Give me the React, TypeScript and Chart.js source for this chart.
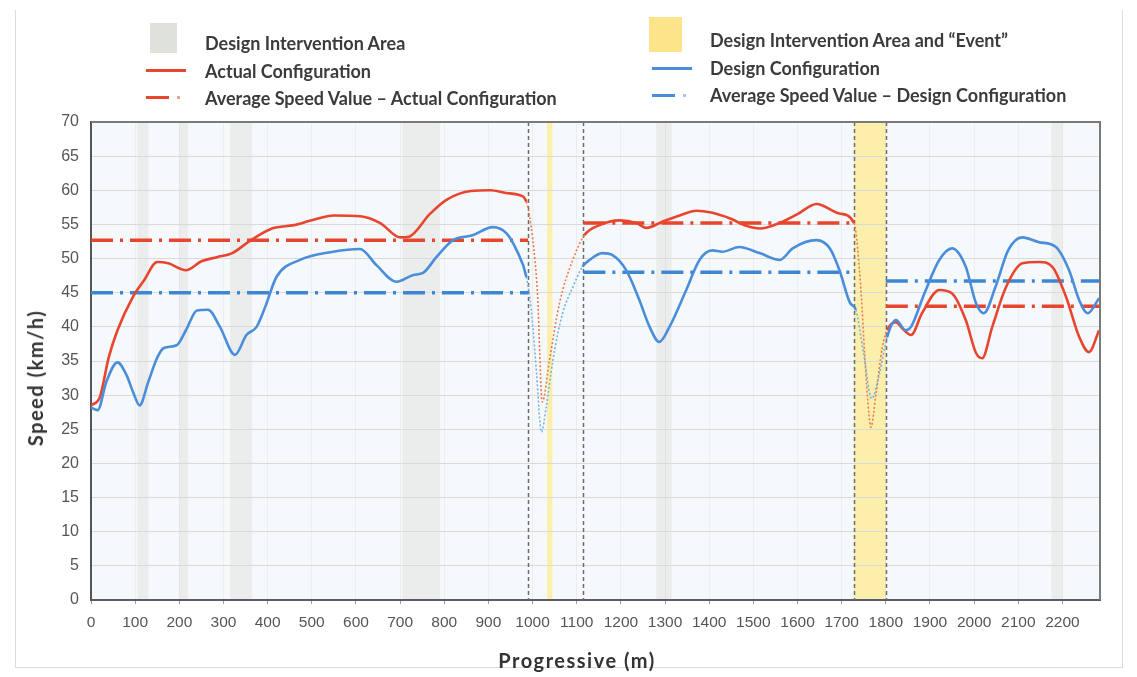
import React, { useEffect, useRef } from 'react';
import { Chart, registerables } from 'chart.js';

Chart.register(...registerables);

// ---- data ----
const actualDistance = [
  0, 20, 40, 60, 95, 120, 150, 175, 215, 250, 285, 320, 360, 410, 460, 500, 550, 610, 655, 700, 720,
  767, 805, 860, 905, 940, 970, 986, 1000, 1011, 1022, 1038, 1061, 1091, 1117, 1152, 1197, 1235,
  1258, 1294, 1333, 1371, 1407, 1446, 1484, 1514, 1566, 1600, 1643, 1695, 1728, 1744, 1752, 1762,
  1766, 1778, 1792, 1803, 1823, 1837, 1857, 1882, 1921, 1950, 1981, 2004, 2018, 2041, 2072, 2109,
  2147, 2177, 2208, 2238, 2260, 2283,
];
const actualSpeed = [
  28.5, 29.7, 35.5, 39.5, 44.4, 46.8, 49.5, 49.3, 48.3, 49.6, 50.2, 50.8, 52.6, 54.4, 54.9, 55.6, 56.3,
  56.2, 55.2, 53.1, 53.2, 56.5, 58.6, 59.9, 60, 59.6, 59.3, 58.3, 53, 45, 29, 35, 43.5, 49.8, 53.4,
  54.9, 55.6, 55.2, 54.5, 55.4, 56.3, 57, 56.7, 55.9, 54.8, 54.4, 55.4, 56.5, 58, 56.6, 55.2, 45, 36,
  27, 25.3, 30.3, 37, 39.5, 40.7, 39.8, 38.8, 42, 45.4, 44.9, 41, 36.2, 35.4, 40, 45.8, 49.3, 49.5,
  48.8, 44.4, 38.5, 36.3, 39.5,
];
const designDistance = [
  0, 15, 35, 60, 80, 95, 110, 130, 150, 165, 194, 215, 240, 265, 292, 326, 352, 375, 395, 420, 473,
  548, 609, 647, 692, 730, 752, 782, 820, 864, 910, 941, 964, 986, 997, 1009, 1020, 1031, 1046,
  1068, 1091, 1113, 1129, 1158, 1181, 1212, 1242, 1265, 1287, 1310, 1348, 1378, 1407, 1430, 1468,
  1514, 1560, 1589, 1643, 1673, 1695, 1719, 1732, 1750, 1768, 1785, 1803, 1823, 1845, 1857, 1888,
  1921, 1950, 1981, 2004, 2022, 2048, 2077, 2109, 2147, 2185, 2215, 2238, 2257, 2283,
];
const designSpeed = [
  28.2, 27.8, 32, 34.8, 33, 30.5, 28.5, 32, 35.5, 36.9, 37.3, 39.5, 42.4, 42.5, 40, 35.9, 38.8, 40,
  43, 47.3, 49.8, 51, 51.4, 49, 46.6, 47.6, 47.9, 50.2, 52.7, 53.4, 54.6, 53.7, 51.2, 47.3, 42.5, 33.2,
  24.6, 28.3, 35.1, 42, 45.8, 48.8, 49.8, 50.8, 50.5, 48.3, 43.9, 40, 37.8, 40, 45.4, 49.8, 51.2, 51,
  51.7, 50.8, 49.8, 51.5, 52.7, 51.5, 48.3, 43.5, 42.5, 36, 29.5, 33, 38.5, 41, 39.5, 40, 45, 49.8,
  51.5, 48.8, 43.5, 42, 45.8, 51.2, 53.1, 52.4, 51.7, 48.3, 43.9, 42, 44.2,
];
const averageFrom = [0, 1115, 1800];
const averageTo = [990, 1728, 2285];
const averageActual = [52.7, 55.2, 43.0];
const averageDesign = [45.0, 48.0, 46.7];
const interventionAreas = [
  [105, 130], [200, 220], [315, 365], [705, 790], [1280, 1315], [2175, 2200],
];
const eventAreas = [[1033, 1045], [1728, 1800]];
const sectionLimits = [990, 1115, 1728, 1800];
const transitionZones = [[986, 1117], [1728, 1803]];
const xMin = 0;
const xMax = 2285;
const xStep = 100;
const yMin = 0;
const yMax = 70;
const yStep = 5;

const RED = '#e8452f';
const RED_DOT = '#f07a4e';
const BLUE = '#4a8edb';
const BLUE_DOT = '#72b4e6';

const inTransition = (ctx: any) => {
  const a = ctx.p0.parsed.x;
  const b = ctx.p1.parsed.x;
  return transitionZones.some(([s, e]) => a >= s && b <= e);
};

const pts = (xs: number[], ys: number[]) => xs.map((x, i) => ({ x, y: ys[i] }));

const areaPlugin = {
  id: 'areas',
  beforeDraw(chart: any) {
    const { ctx, chartArea: ca, scales } = chart;
    const x = scales.x;
    ctx.save();
    ctx.fillStyle = '#f6f9fc';
    ctx.fillRect(ca.left, ca.top, ca.right - ca.left, ca.bottom - ca.top);
    ctx.fillStyle = 'rgba(210, 212, 204, 0.32)';
    interventionAreas.forEach(([s, e]) => {
      const a = x.getPixelForValue(s);
      const b = x.getPixelForValue(e);
      ctx.fillRect(a, ca.top, b - a, ca.bottom - ca.top);
    });
    ctx.fillStyle = 'rgba(253, 236, 150, 0.8)';
    eventAreas.forEach(([s, e]) => {
      const a = x.getPixelForValue(s);
      const b = x.getPixelForValue(e);
      ctx.fillRect(a, ca.top, b - a, ca.bottom - ca.top);
    });
    ctx.restore();
  },
  beforeDatasetsDraw(chart: any) {
    const { ctx, chartArea: ca, scales } = chart;
    ctx.save();
    ctx.strokeStyle = '#6b6b6b';
    ctx.lineWidth = 1.5;
    ctx.setLineDash([4, 3]);
    sectionLimits.forEach((v) => {
      const p = Math.round(scales.x.getPixelForValue(v)) + 0.5;
      ctx.beginPath();
      ctx.moveTo(p, ca.top);
      ctx.lineTo(p, ca.bottom);
      ctx.stroke();
    });
    ctx.restore();
  },
  afterDatasetsDraw(chart: any) {
    const { ctx, chartArea: ca } = chart;
    ctx.save();
    ctx.strokeStyle = '#7a7a7a';
    ctx.lineWidth = 2;
    ctx.beginPath();
    ctx.moveTo(ca.left, ca.top);
    ctx.lineTo(ca.right, ca.top);
    ctx.lineTo(ca.right, ca.bottom);
    ctx.stroke();
    ctx.restore();
  },
};

function ChartCanvas() {
  const ref = useRef<HTMLCanvasElement | null>(null);
  useEffect(() => {
    if (!ref.current) return;
    const avgSets: any[] = [];
    averageFrom.forEach((s, i) => {
      avgSets.push({
        data: [{ x: s, y: averageActual[i] }, { x: averageTo[i], y: averageActual[i] }],
        borderColor: RED,
        borderWidth: 3.5,
        borderDash: [22, 7, 3, 7],
        pointRadius: 0,
        tension: 0,
      });
      avgSets.push({
        data: [{ x: s, y: averageDesign[i] }, { x: averageTo[i], y: averageDesign[i] }],
        borderColor: '#3f86d2',
        borderWidth: 3.5,
        borderDash: [22, 7, 3, 7],
        pointRadius: 0,
        tension: 0,
      });
    });
    const chart = new Chart(ref.current, {
      type: 'line',
      data: {
        datasets: [
          {
            label: 'Design Configuration',
            data: pts(designDistance, designSpeed),
            borderColor: BLUE,
            borderWidth: 2.6,
            pointRadius: 0,
            cubicInterpolationMode: 'monotone',
            segment: {
              borderColor: (c: any) => (inTransition(c) ? BLUE_DOT : undefined),
              borderDash: (c: any) => (inTransition(c) ? [2, 2] : undefined),
              borderWidth: (c: any) => (inTransition(c) ? 1.6 : undefined),
            },
          },
          {
            label: 'Actual Configuration',
            data: pts(actualDistance, actualSpeed),
            borderColor: RED,
            borderWidth: 2.6,
            pointRadius: 0,
            cubicInterpolationMode: 'monotone',
            segment: {
              borderColor: (c: any) => (inTransition(c) ? RED_DOT : undefined),
              borderDash: (c: any) => (inTransition(c) ? [2, 2] : undefined),
              borderWidth: (c: any) => (inTransition(c) ? 1.6 : undefined),
            },
          },
          ...avgSets,
        ],
      },
      options: {
        animation: false,
        responsive: false,
        maintainAspectRatio: false,
        layout: { padding: { top: 122, right: 37, left: 0, bottom: 0 } },
        plugins: { legend: { display: false }, tooltip: { enabled: false } },
        scales: {
          x: {
            type: 'linear',
            min: xMin,
            max: xMax,
            afterFit: (s: any) => { s.height = 77; },
            ticks: {
              stepSize: xStep,
              includeBounds: false,
              autoSkip: false,
              maxRotation: 0,
              padding: 9,
              color: '#555',
              font: { family: 'Liberation Sans', size: 15.5 },
              callback: (v: any) => String(v),
            },
            grid: { color: 'rgba(0,0,0,0.045)', tickLength: 4, tickColor: '#999' },
            border: { color: '#5a5a6a', width: 2 },
          },
          y: {
            type: 'linear',
            min: yMin,
            max: yMax,
            afterFit: (s: any) => { s.width = 91; },
            ticks: {
              stepSize: yStep,
              padding: 12,
              color: '#555',
              font: { family: 'Liberation Sans', size: 16 },
            },
            grid: { color: '#dadada', drawTicks: false },
            border: { color: '#555', width: 2 },
          },
        },
      },
      plugins: [areaPlugin],
    });
    return () => chart.destroy();
  }, []);
  return <canvas ref={ref} width={1137} height={677} style={{ position: 'absolute', left: 0, top: 0 }} />;
}

const legendText: React.CSSProperties = {
  position: 'absolute',
  fontFamily: 'Lato, "Open Sans", sans-serif',
  fontWeight: 700,
  fontSize: 18,
  color: '#3b3b3b',
  whiteSpace: 'nowrap',
  lineHeight: '20px',
};

function LineSym({ x, y, color, dashed }: { x: number; y: number; color: string; dashed?: boolean }) {
  if (!dashed) {
    return <div style={{ position: 'absolute', left: x, top: y - 1.5, width: 40, height: 3, background: color }} />;
  }
  return (
    <>
      <div style={{ position: 'absolute', left: x, top: y - 1.5, width: 23, height: 3.5, background: color }} />
      <div style={{ position: 'absolute', left: x + 31, top: y - 1, width: 3, height: 2.5, background: color, opacity: 0.5 }} />
    </>
  );
}

export default function App() {
  return (
    <div style={{ position: 'fixed', left: 0, top: 0, width: 1137, height: 677, background: '#fff', overflow: 'hidden' }}>
      {/* faint outer frame */}
      <div style={{ position: 'absolute', left: 15, top: 10, width: 1106, height: 657, borderLeft: '1px solid #dcdcdc', borderRight: '1px solid #dcdcdc', borderBottom: '1px solid #dcdcdc' }} />
      <ChartCanvas />
      {/* legend, left column */}
      <div style={{ position: 'absolute', left: 150, top: 23, width: 27, height: 30, background: '#dfe2da' }} />
      <div style={{ ...legendText, left: 205, top: 33 }}>Design Intervention Area</div>
      <LineSym x={146} y={70} color={RED} />
      <div style={{ ...legendText, left: 205, top: 61 }}>Actual Configuration</div>
      <LineSym x={146} y={97} color={RED} dashed />
      <div style={{ ...legendText, left: 205, top: 88 }}>Average Speed Value – Actual Configuration</div>
      {/* legend, right column */}
      <div style={{ position: 'absolute', left: 649, top: 17, width: 33, height: 35, background: '#fde48a' }} />
      <div style={{ ...legendText, left: 710, top: 30 }}>Design Intervention Area and “Event”</div>
      <LineSym x={652} y={68} color={BLUE} />
      <div style={{ ...legendText, left: 710, top: 58 }}>Design Configuration</div>
      <LineSym x={652} y={95} color={BLUE} dashed />
      <div style={{ ...legendText, left: 710, top: 85 }}>Average Speed Value – Design Configuration</div>
      {/* axis titles */}
      <div style={{ ...legendText, fontSize: 20, letterSpacing: 1.5, left: 477, top: 650, width: 200, textAlign: 'center', color: '#333' }}>Progressive (m)</div>
      <div
        style={{
          ...legendText,
          fontSize: 20,
          letterSpacing: 1.5,
          color: '#333',
          left: 35,
          top: 378,
          transform: 'translate(-50%, -50%) rotate(-90deg)',
        }}
      >
        Speed (km/h)
      </div>
    </div>
  );
}
